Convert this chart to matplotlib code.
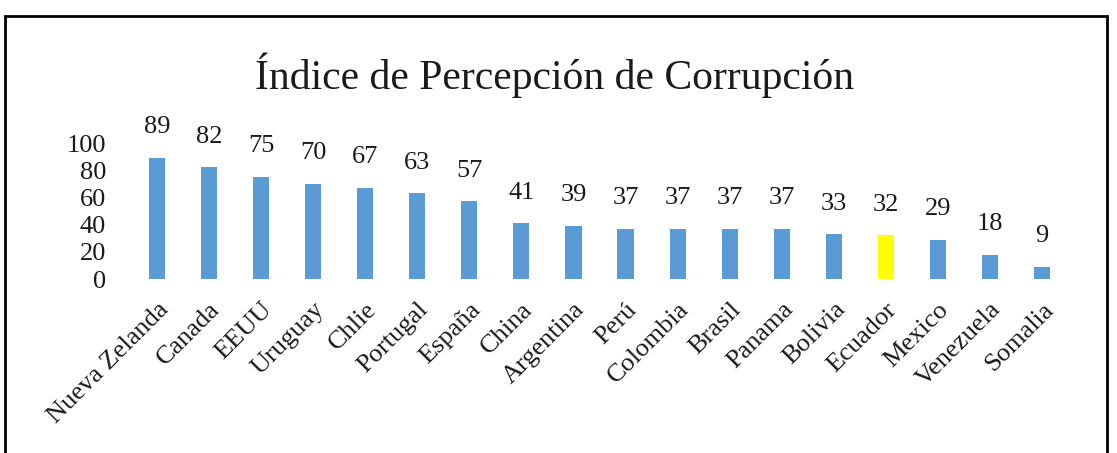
import matplotlib
matplotlib.use('Agg')
import matplotlib.pyplot as plt
from matplotlib.patches import Rectangle

paises = ['Nueva Zelanda', 'Canada', 'EEUU', 'Uruguay', 'Chlie', 'Portugal',
          'España', 'China', 'Argentina', 'Perú', 'Colombia', 'Brasil',
          'Panama', 'Bolivia', 'Ecuador', 'Mexico', 'Venezuela', 'Somalia']
indice = [89, 82, 75, 70, 67, 63, 57, 41, 39, 37, 37, 37, 37, 33, 32, 29, 18, 9]
yticks = [0, 20, 40, 60, 80, 100]
resaltado = 'Ecuador'

plt.rcParams['font.family'] = ['Liberation Serif', 'DejaVu Serif']

W, H = 1117, 453
fig = plt.figure(figsize=(W / 100, H / 100), dpi=100)

# axes placed in pixel terms
x0, x1 = 131, 1068
y0, y1 = 279, 143
ax = fig.add_axes([x0 / W, 1 - y0 / H, (x1 - x0) / W, (y0 - y1) / H])

colores = ['#FFFF00' if p == resaltado else '#5B9BD5' for p in paises]
xs = range(len(paises))
bars = ax.bar(xs, indice, width=0.31, color=colores)

for x, v in zip(xs, indice):
    ax.annotate(str(v), (x, v), xytext=(0, 22), textcoords='offset points',
                ha='center', va='center', fontsize=19, color='#1a1a1a')

ax.set_xlim(-0.5, len(paises) - 0.5)
ax.set_ylim(0, 100)
ax.set_yticks(yticks)
ax.set_yticklabels([str(t) for t in yticks], fontsize=19)
ax.set_xticks(list(xs))
ax.set_xticklabels(paises, rotation=45, ha='right', rotation_mode='anchor',
                   fontsize=19)
ax.tick_params(axis='both', length=0, colors='#1a1a1a')
ax.tick_params(axis='y', pad=18)
ax.tick_params(axis='x', pad=14)
for s in ax.spines.values():
    s.set_visible(False)

fig.text(555 / W, 1 - 75 / H, 'Índice de Percepción de Corrupción',
         ha='center', va='center', fontsize=30, color='#1a1a1a')

# outer frame
fig.patches.append(Rectangle((5 / W, -0.02), 1102 / W, 1.02 - 16 / H,
                             transform=fig.transFigure, fill=False,
                             edgecolor='black', linewidth=2))

fig.savefig('out.png', dpi=100)
